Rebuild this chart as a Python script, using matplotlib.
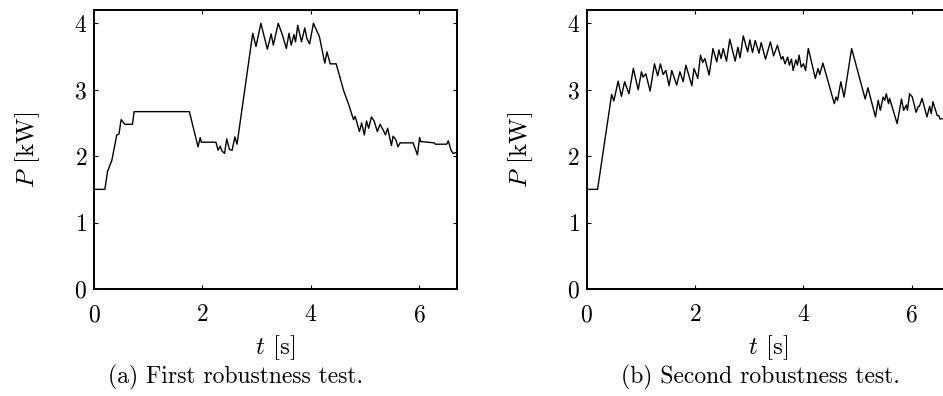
import matplotlib
matplotlib.use("Agg")
import matplotlib.pyplot as plt


# first robustness test
T1 = [0.0, 0.2, 0.25, 0.33, 0.42, 0.46, 0.50, 0.55, 0.57, 0.71, 0.74, 1.76,
      1.92, 1.96, 1.98, 2.25, 2.29, 2.33, 2.36, 2.41, 2.45, 2.50, 2.55, 2.60,
      2.64, 2.93, 2.99, 3.08, 3.20, 3.27, 3.31, 3.40, 3.48, 3.55, 3.60, 3.64,
      3.69, 3.72, 3.76, 3.83, 3.89, 3.93, 3.98, 4.05, 4.16, 4.26, 4.30, 4.36,
      4.47, 4.61, 4.70, 4.79, 4.82, 4.90, 4.94, 4.99, 5.03, 5.07, 5.12, 5.17,
      5.23, 5.28, 5.34, 5.38, 5.42, 5.49, 5.52, 5.57, 5.61, 5.65, 5.89, 5.97,
      6.01, 6.03, 6.28, 6.30, 6.51, 6.54, 6.59, 6.63, 6.70]
P1 = [1.50, 1.50, 1.77, 1.94, 2.32, 2.33, 2.55, 2.50, 2.48, 2.48, 2.67, 2.67,
      2.14, 2.28, 2.21, 2.21, 2.09, 2.15, 2.08, 2.04, 2.26, 2.10, 2.09, 2.29,
      2.18, 3.85, 3.65, 4.00, 3.61, 3.84, 3.67, 4.00, 3.82, 3.62, 3.85, 3.67,
      3.83, 3.72, 3.97, 3.72, 3.93, 3.77, 3.69, 4.00, 3.80, 3.40, 3.57, 3.39,
      3.39, 2.98, 2.78, 2.55, 2.60, 2.37, 2.50, 2.32, 2.53, 2.42, 2.59, 2.53,
      2.37, 2.48, 2.39, 2.32, 2.42, 2.16, 2.30, 2.25, 2.14, 2.20, 2.20, 2.02,
      2.28, 2.22, 2.20, 2.18, 2.18, 2.23, 2.09, 2.04, 2.06]

# second robustness test
T2 = [0.0, 0.2, 0.46, 0.50, 0.58, 0.64, 0.70, 0.73, 0.78, 0.86, 0.95, 1.01,
      1.04, 1.09, 1.17, 1.25, 1.31, 1.36, 1.41, 1.46, 1.52, 1.57, 1.66, 1.72,
      1.78, 1.83, 1.94, 1.98, 2.05, 2.10, 2.14, 2.18, 2.26, 2.33, 2.40, 2.44,
      2.48, 2.52, 2.58, 2.64, 2.74, 2.79, 2.83, 2.89, 2.97, 3.01, 3.06, 3.11,
      3.18, 3.22, 3.30, 3.39, 3.45, 3.52, 3.59, 3.62, 3.66, 3.71, 3.74, 3.78,
      3.81, 3.86, 3.89, 3.92, 3.96, 4.00, 4.04, 4.09, 4.22, 4.27, 4.30, 4.36,
      4.57, 4.60, 4.63, 4.69, 4.75, 4.89, 5.14, 5.19, 5.33, 5.38, 5.42, 5.47,
      5.50, 5.53, 5.57, 5.59, 5.73, 5.81, 5.85, 5.90, 5.92, 5.96, 6.01, 6.08,
      6.12, 6.14, 6.19, 6.28, 6.33, 6.36, 6.39, 6.47, 6.50, 6.52, 6.70]
P2 = [1.50, 1.50, 2.93, 2.83, 3.13, 2.90, 3.12, 3.05, 2.94, 3.32, 3.00, 3.27,
      3.19, 3.24, 2.98, 3.39, 3.21, 3.39, 3.23, 3.29, 3.06, 3.29, 3.07, 3.27,
      3.12, 3.37, 3.06, 3.32, 3.17, 3.52, 3.41, 3.47, 3.22, 3.62, 3.42, 3.60,
      3.47, 3.62, 3.43, 3.76, 3.43, 3.64, 3.48, 3.81, 3.57, 3.75, 3.56, 3.74,
      3.55, 3.71, 3.46, 3.72, 3.51, 3.67, 3.46, 3.50, 3.39, 3.49, 3.37, 3.46,
      3.29, 3.45, 3.37, 3.52, 3.34, 3.39, 3.29, 3.62, 3.17, 3.32, 3.23, 3.40,
      2.79, 2.89, 2.84, 3.12, 2.89, 3.62, 2.86, 3.03, 2.59, 2.84, 2.69, 2.89,
      2.84, 2.94, 2.79, 2.87, 2.49, 2.86, 2.69, 2.77, 2.69, 2.94, 2.89, 2.66,
      2.75, 2.75, 2.87, 2.59, 2.75, 2.64, 2.82, 2.61, 2.61, 2.56, 2.58]

XTICKS = [0, 2, 4, 6]
YTICKS = [0, 1, 2, 3, 4]
CAPTIONS = ["(a) First robustness test.", "(b) Second robustness test."]


def style_axes(ax):

    ax.set_xlim(0, 6.7)
    ax.set_ylim(0, 4.2)

    ax.set_xticks(XTICKS)
    ax.set_yticks(YTICKS)

    ax.tick_params(
        direction="in",
        top=True,
        right=True,
        length=3,
        width=0.8,
        labelsize=17
    )
    ax.tick_params(axis="x", pad=11)
    ax.tick_params(axis="y", pad=5)

    for spine in ax.spines.values():
        spine.set_linewidth(1.4)

    ax.set_xlabel(r"$t$ [s]", fontsize=18)
    ax.set_ylabel(r"$P$ [kW]", fontsize=18)

    # top of xlabel / right edge of ylabel
    ax.xaxis.set_label_coords(0.5, -0.158)
    ax.yaxis.set_label_coords(-0.143, 0.5)


def main():

    plt.rcParams["font.family"] = "cmr10"
    plt.rcParams["mathtext.fontset"] = "cm"
    plt.rcParams["axes.formatter.use_mathtext"] = True

    fig = plt.figure(figsize=(9.43, 3.96), dpi=100)

    ax1 = fig.add_axes([0.0997, 0.2702, 0.3849, 0.7045])
    ax2 = fig.add_axes([0.6222, 0.2702, 0.3849, 0.7045])

    ax1.plot(T1, P1, color="black", linewidth=1.0)
    ax2.plot(T2, P2, color="black", linewidth=1.0)

    style_axes(ax1)
    style_axes(ax2)

    fig.text(0.250, 0.048, CAPTIONS[0], ha="center", va="center", fontsize=17)
    fig.text(0.806, 0.048, CAPTIONS[1], ha="center", va="center", fontsize=17)

    fig.savefig("out.png", dpi=100)
    plt.close(fig)


if __name__ == "__main__":
    main()
